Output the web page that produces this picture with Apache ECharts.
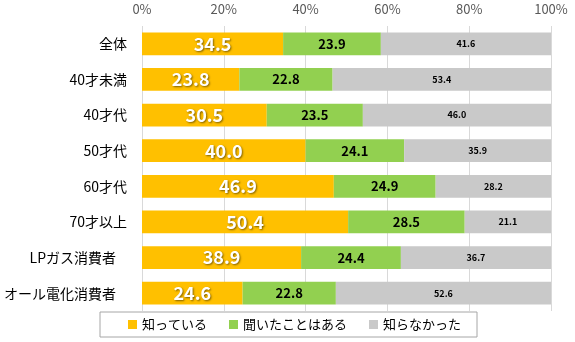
<!DOCTYPE html>
<html><head><meta charset="utf-8">
<script src="https://cdn.jsdelivr.net/npm/echarts@6/dist/echarts.min.js"></script>
<style>html,body{margin:0;padding:0;background:#fff}#c{width:575px;height:342px}</style>
</head><body><div id="c"></div>
<script>
const categories = ['全体','40才未満','40才代','50才代','60才代','70才以上','LPガス消費者','オール電化消費者'];
const seriesNames = ['知っている','聞いたことはある','知らなかった'];
const known = [34.5,23.8,30.5,40.0,46.9,50.4,38.9,24.6];
const heard = [23.9,22.8,23.5,24.1,24.9,28.5,24.4,22.8];
const unknown = [41.6,53.4,46.0,35.9,28.2,21.1,36.7,52.6];
const tickValues = [0,20,40,60,80,100];

const font = '"Noto Sans CJK JP","Noto Sans",sans-serif';
const catData = categories.map(c => c.length > 5 ? {value:c, textStyle:{padding:[0,11,0,0]}} : c);
const chart = echarts.init(document.getElementById('c'));
chart.setOption({
  animation:false,
  textStyle:{fontFamily:font},
  grid:{left:142,right:24,top:26,bottom:31,containLabel:false},
  xAxis:{type:'value',position:'top',min:0,max:100,interval:20,
    axisLabel:{formatter:v=>v+'%',color:'#595959',fontSize:13,fontFamily:font,margin:10},
    axisLine:{show:false},axisTick:{show:false},
    splitLine:{lineStyle:{color:'#D9D9D9',width:1}}},
  yAxis:{type:'category',data:catData,inverse:true,
    axisLine:{show:false},axisTick:{show:false},
    axisLabel:{color:'#000',fontSize:14,fontFamily:font,margin:15}},
  legend:{data:seriesNames,left:100,top:312,itemWidth:9,itemHeight:9,icon:'rect',itemGap:22,
    borderColor:'#A6A6A6',borderWidth:1,padding:[6,16,6,28],
    textStyle:{fontSize:13,color:'#000',fontFamily:font}},
  series:[
    {name:seriesNames[0],type:'bar',stack:'s',data:known,barWidth:'64%',
     itemStyle:{color:'#FFC000'},
     label:{show:true,position:'inside',color:'#fff',fontSize:18,fontWeight:'bold',fontFamily:font,
       textShadowColor:'rgba(0,0,0,0.5)',textShadowBlur:2,textShadowOffsetX:1,textShadowOffsetY:1,
       formatter:p=>p.value.toFixed(1)}},
    {name:seriesNames[1],type:'bar',stack:'s',data:heard,
     itemStyle:{color:'#92D050'},
     label:{show:true,position:'inside',color:'#000',fontSize:13,fontWeight:'bold',fontFamily:font,
       formatter:p=>p.value.toFixed(1)}},
    {name:seriesNames[2],type:'bar',stack:'s',data:unknown,
     itemStyle:{color:'#C9C9C9'},
     label:{show:true,position:'inside',color:'#000',fontSize:9,fontWeight:'bold',fontFamily:font,
       formatter:p=>p.value.toFixed(1)}}
  ]
});
</script></body></html>
